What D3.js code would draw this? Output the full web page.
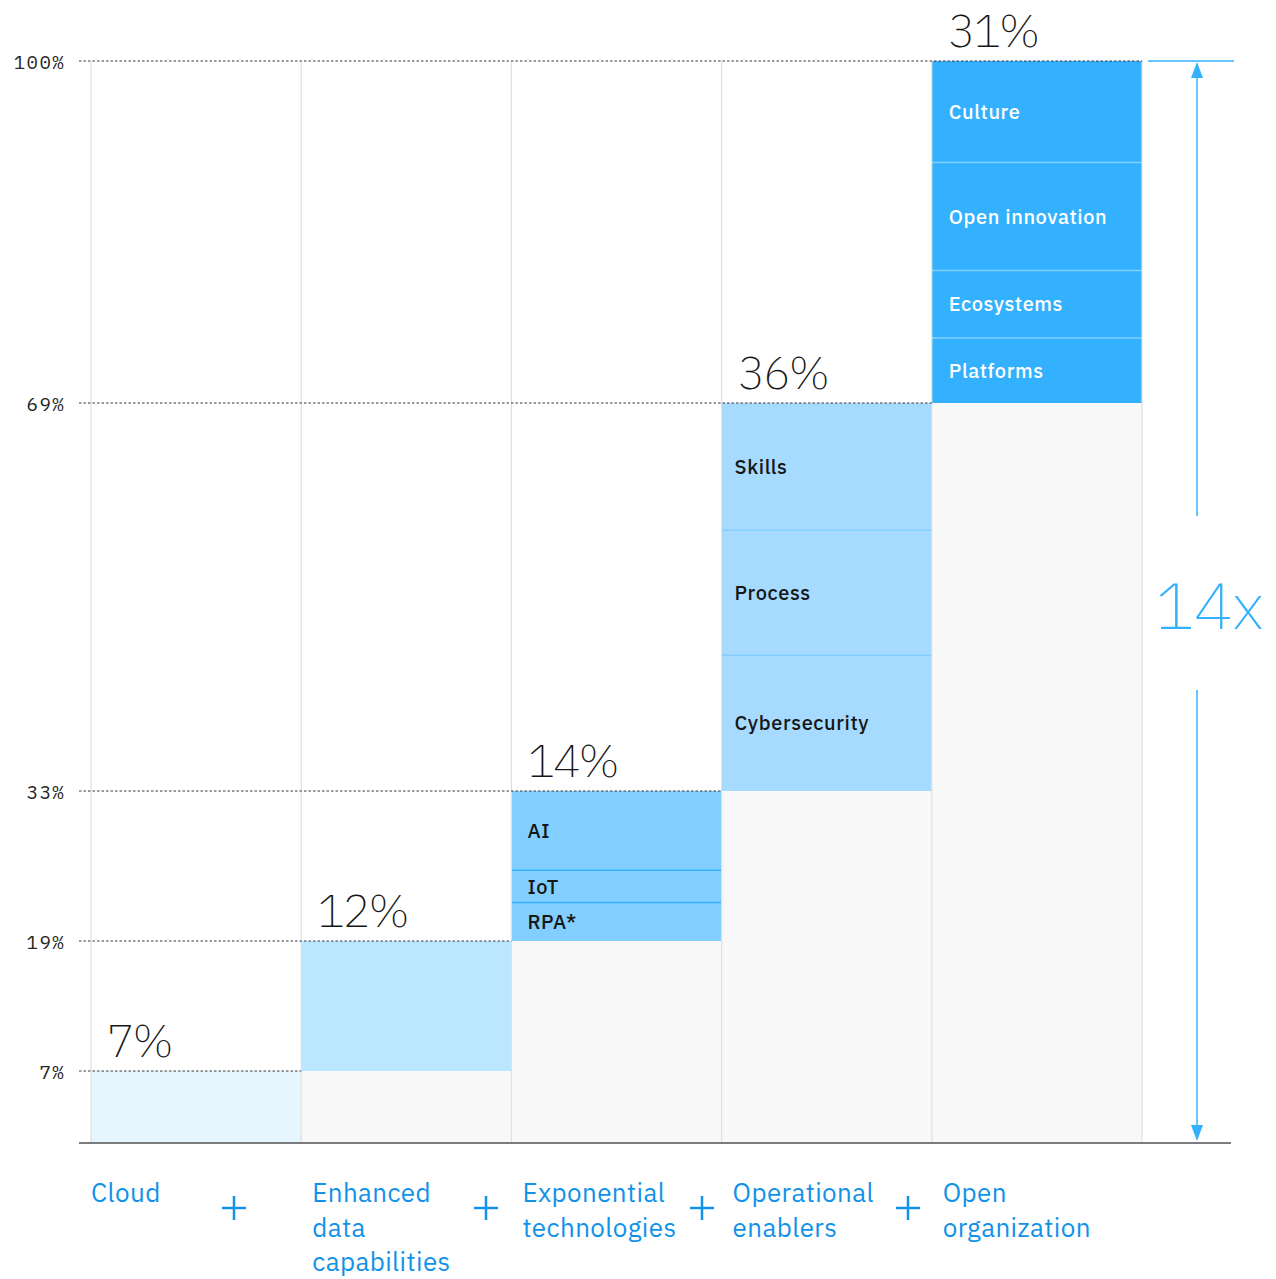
<!DOCTYPE html>
<html>
<head>
<meta charset="utf-8">
<script src="https://cdn.jsdelivr.net/npm/d3@7"></script>
<style>
  html, body { margin: 0; padding: 0; background: #ffffff; }
  svg { display: block; }
</style>
</head>
<body>
<svg id="chart" width="1276" height="1279"></svg>
<script>
// ---- data ----
const categories = ["Cloud", "Enhanced data capabilities", "Exponential technologies", "Operational enablers", "Open organization"];
const categoryLines = [["Cloud"], ["Enhanced", "data", "capabilities"], ["Exponential", "technologies"], ["Operational", "enablers"], ["Open", "organization"]];
const cumulativeStart = [0, 7, 19, 33, 69];
const shares = [7, 12, 14, 36, 31];
const shareLabels = ["7%", "12%", "14%", "36%", "31%"];
const tickValues = [7, 19, 33, 69, 100];
const tickLabels = ["7%", "19%", "33%", "69%", "100%"];
const expSegments = [
  { label: "RPA*", from: 19, to: 22.6 },
  { label: "IoT", from: 22.6, to: 25.6 },
  { label: "AI", from: 25.6, to: 33 }
];
const opSegments = [
  { label: "Cybersecurity", from: 33, to: 45.6 },
  { label: "Process", from: 45.6, to: 57.2 },
  { label: "Skills", from: 57.2, to: 69 }
];
const openSegments = [
  { label: "Platforms", from: 69, to: 74.9 },
  { label: "Ecosystems", from: 74.9, to: 81 },
  { label: "Open innovation", from: 81, to: 90.8 },
  { label: "Culture", from: 90.8, to: 100 }
];
const multiplierLabel = "14x";

// ---- styles ----
const fills = ["#e5f6ff", "#bae6ff", "#82cfff", "#a6dbff", "#33b1ff"];
const sepColors = [null, null, "#33b1ff", "#82cfff", "#82cfff"];
const labelColors = ["#161616", "#161616", "#161616", "#161616", "#ffffff"];
const catLabelOffset = [0, 11, 11, 11, 11];
const blue = "#1192e8";
const accent = "#33b1ff";

const svg = d3.select("#chart");

const x = d3.scaleBand().domain(categories).range([91, 1142]).padding(0);
const y = d3.scaleLinear().domain([0, 7, 19, 33, 69, 100]).range([1143, 1071, 941, 791, 403, 61]);

const bars = categories.map((c, i) => {
  let segs;
  if (i === 2) segs = expSegments;
  else if (i === 3) segs = opSegments;
  else if (i === 4) segs = openSegments;
  else segs = [{ label: "", from: cumulativeStart[i], to: cumulativeStart[i] + shares[i] }];
  return { cat: c, i, start: cumulativeStart[i], end: cumulativeStart[i] + shares[i], segs };
});

// grey backgrounds below each bar
svg.append("g").selectAll("rect")
  .data(bars.filter(b => b.start > 0))
  .join("rect")
  .attr("x", d => x(d.cat))
  .attr("width", x.bandwidth())
  .attr("y", d => y(d.start))
  .attr("height", d => y(0) - y(d.start))
  .attr("fill", "#f8f8f8");

// segments
const segG = svg.append("g");
bars.forEach(b => {
  const g = segG.append("g");
  g.selectAll("rect")
    .data(b.segs)
    .join("rect")
    .attr("x", x(b.cat))
    .attr("width", x.bandwidth())
    .attr("y", d => y(d.to))
    .attr("height", d => y(d.from) - y(d.to))
    .attr("fill", fills[b.i]);
  if (sepColors[b.i]) {
    g.selectAll("line")
      .data(b.segs.slice(1))
      .join("line")
      .attr("x1", x(b.cat))
      .attr("x2", x(b.cat) + x.bandwidth())
      .attr("y1", d => y(d.from))
      .attr("y2", d => y(d.from))
      .attr("stroke", sepColors[b.i])
      .attr("stroke-width", 1.5);
  }
  g.selectAll("text")
    .data(b.segs.filter(s => s.label))
    .join("text")
    .attr("x", x(b.cat) + (b.i === 4 ? 17 : b.i === 3 ? 13 : 16))
    .attr("y", d => (y(d.from) + y(d.to)) / 2)
    .attr("dy", "0.36em")
    .attr("fill", labelColors[b.i])
    .attr("font-family", "'IBM Plex Sans', 'Noto Sans', sans-serif")
    .attr("font-weight", 500)
    .attr("font-size", 20)
    .attr("letter-spacing", 0.6)
    .text(d => d.label);
});

// vertical gridlines
const gridX = categories.map(c => x(c)).concat([x.range()[1]]);
svg.append("g").selectAll("line")
  .data(gridX)
  .join("line")
  .attr("x1", d => d)
  .attr("x2", d => d)
  .attr("y1", y(100))
  .attr("y2", y(0))
  .attr("stroke", "#e0e0e0")
  .attr("stroke-width", 1.2);

// dashed tick lines + tick labels
tickValues.forEach((v, k) => {
  const idx = bars.findIndex(b => b.end === v);
  const xEnd = x(categories[idx]) + x.bandwidth();
  svg.append("line")
    .attr("x1", 79).attr("x2", xEnd)
    .attr("y1", y(v)).attr("y2", y(v))
    .attr("stroke", "#393939")
    .attr("stroke-width", 1)
    .attr("stroke-dasharray", "2.5,2");
  svg.append("text")
    .attr("x", 65)
    .attr("y", y(v))
    .attr("dy", "0.4em")
    .attr("text-anchor", "end")
    .attr("fill", "#262626")
    .attr("font-family", "'IBM Plex Mono', 'DejaVu Sans Mono', monospace")
    .attr("font-size", 19)
    .attr("letter-spacing", 1.4)
    .text(tickLabels[k]);
});

// big share labels
svg.append("g").selectAll("text")
  .data(bars)
  .join("text")
  .attr("x", d => x(d.cat) + 16)
  .attr("y", d => y(d.end) - 14)
  .attr("fill", "#161616")
  .attr("font-family", "'IBM Plex Sans', Roboto, sans-serif")
  .attr("font-weight", 200)
  .attr("font-size", 46)
  .attr("letter-spacing", -2)
  .text((d, i) => shareLabels[i]);

// baseline
svg.append("line")
  .attr("x1", 79).attr("x2", 1231)
  .attr("y1", y(0)).attr("y2", y(0))
  .attr("stroke", "#525252")
  .attr("stroke-width", 1.5);

// category labels
const catG = svg.append("g");
categories.forEach((c, i) => {
  const lx = x(c) + catLabelOffset[i];
  const t = catG.append("text")
    .attr("x", lx)
    .attr("y", 1202)
    .attr("fill", blue)
    .attr("font-family", "'IBM Plex Sans', 'Noto Sans', sans-serif")
    .attr("font-size", 26)
    .attr("letter-spacing", 0.4);
  categoryLines[i].forEach((ln, j) => {
    t.append("tspan").attr("x", lx).attr("dy", j === 0 ? 0 : 34.5).text(ln);
  });
});

// plus signs
const plusX = [234, 486, 702, 908];
svg.append("g").selectAll("g")
  .data(plusX)
  .join("g")
  .attr("transform", d => `translate(${d},1208)`)
  .each(function () {
    const g = d3.select(this);
    g.append("line").attr("x1", -12).attr("x2", 12).attr("y1", 0).attr("y2", 0)
      .attr("stroke", blue).attr("stroke-width", 2.5);
    g.append("line").attr("x1", 0).attr("x2", 0).attr("y1", -12).attr("y2", 12)
      .attr("stroke", blue).attr("stroke-width", 2.5);
  });

// right-side multiplier annotation
const ax = 1197;
svg.append("line")
  .attr("x1", 1148).attr("x2", 1234)
  .attr("y1", y(100)).attr("y2", y(100))
  .attr("stroke", accent).attr("stroke-width", 1.5);
svg.append("line")
  .attr("x1", ax).attr("x2", ax)
  .attr("y1", y(100) + 10).attr("y2", 516)
  .attr("stroke", accent).attr("stroke-width", 1.5);
svg.append("line")
  .attr("x1", ax).attr("x2", ax)
  .attr("y1", 690).attr("y2", y(0) - 10)
  .attr("stroke", accent).attr("stroke-width", 1.5);
svg.append("path")
  .attr("d", `M${ax},${y(100) + 1} L${ax - 6},${y(100) + 17} L${ax + 6},${y(100) + 17} Z`)
  .attr("fill", accent);
svg.append("path")
  .attr("d", `M${ax},${y(0) - 2} L${ax - 6},${y(0) - 18} L${ax + 6},${y(0) - 18} Z`)
  .attr("fill", accent);
svg.append("text")
  .attr("x", 1155)
  .attr("y", 629)
  .attr("fill", accent)
  .attr("font-family", "'IBM Plex Sans', Roboto, sans-serif")
  .attr("font-weight", 200)
  .attr("font-size", 66)
  .attr("letter-spacing", -1)
  .text(multiplierLabel);
</script>
</body>
</html>
